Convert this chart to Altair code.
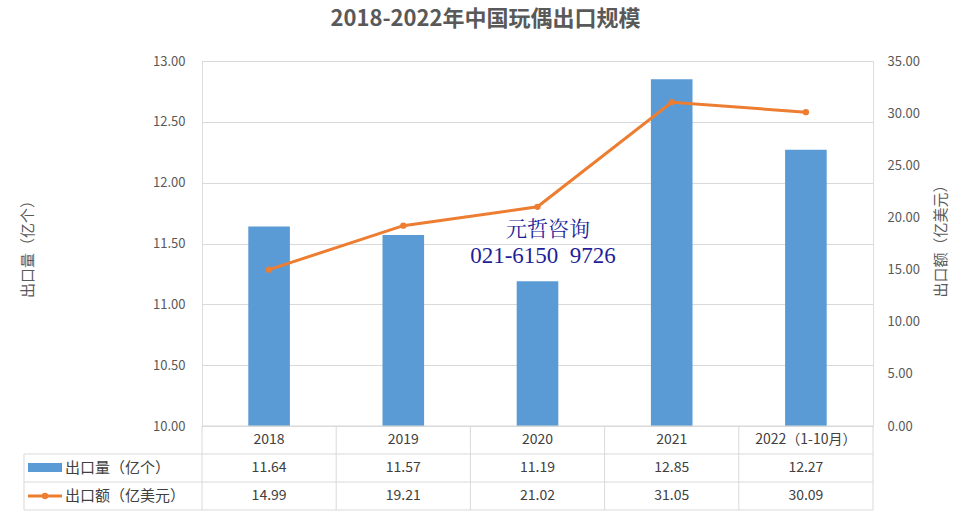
import altair as alt
import pandas as pd

years = ["2018", "2019", "2020", "2021", "2022（1-10月）"]
qty = [11.64, 11.57, 11.19, 12.85, 12.27]          # 出口量（亿个）
amount = [14.99, 19.21, 21.02, 31.05, 30.09]      # 出口额（亿美元）
left_ticks = [10.0, 10.5, 11.0, 11.5, 12.0, 12.5, 13.0]
right_ticks = [0, 5, 10, 15, 20, 25, 30, 35]

df = pd.DataFrame({"year": years, "qty": qty, "amount": amount})
one = pd.DataFrame({"k": [0]})

FONT = "Noto Sans CJK SC"
GRAY = "#595959"
LINE = "#D9D9D9"
BLUE = "#5B9BD5"
ORANGE = "#ED7D31"

W, H = 671, 365
ROW1, ROW2, ROW3, BOTTOM = 379, 407, 435, 449
HEAD_X = -178

xenc = alt.X("year:N", sort=years, axis=None,
             scale=alt.Scale(paddingInner=0, paddingOuter=0))

bars = alt.Chart(df).mark_bar(color=BLUE, width=alt.RelativeBandSize(0.31)).encode(
    x=xenc,
    y=alt.Y("qty:Q", scale=alt.Scale(domain=[10, 13], zero=False, clamp=True),
            axis=alt.Axis(values=left_ticks, format=".2f", grid=True, gridColor=LINE,
                          domain=False, ticks=False, labelPadding=17, labelColor=GRAY,
                          labelFontSize=13, labelFont=FONT,
                          title="出口量（亿个）", titleColor=GRAY, titleFont=FONT,
                          titleFontSize=15, titleFontWeight="normal",
                          titleX=-175, titleY=184, titleAngle=270,
                          titleBaseline="middle", titleAlign="center")),
    y2=alt.datum(10),
)

line = alt.Chart(df).mark_line(color=ORANGE, strokeWidth=3,
                               point=alt.OverlayMarkDef(color=ORANGE, size=40, filled=True, opacity=1)).encode(
    x=xenc,
    y=alt.Y("amount:Q", scale=alt.Scale(domain=[0, 35]),
            axis=alt.Axis(values=right_ticks, format=".2f", grid=False, orient="right",
                          domain=False, ticks=False, labelPadding=14, labelColor=GRAY,
                          labelFontSize=13, labelFont=FONT,
                          title="出口额（亿美元）", titleColor=GRAY, titleFont=FONT,
                          titleFontSize=15, titleFontWeight="normal",
                          titleX=67, titleY=176, titleAngle=270,
                          titleBaseline="middle", titleAlign="center")),
)

base = alt.Chart(df)
txt = dict(font=FONT, fontSize=14, color="#404040", align="center", baseline="middle")
year_text = base.mark_text(**txt).encode(x=xenc, y=alt.value(ROW1), text="year:N")
qty_text = base.mark_text(**txt).encode(x=xenc, y=alt.value(ROW2), text=alt.Text("qty:Q", format=".2f"))
amt_text = base.mark_text(**txt).encode(x=xenc, y=alt.value(ROW3), text=alt.Text("amount:Q", format=".2f"))

vlines = base.mark_rule(color=LINE, strokeWidth=1).encode(
    x=alt.X("year:N", sort=years, axis=None, bandPosition=0,
            scale=alt.Scale(paddingInner=0, paddingOuter=0)),
    y=alt.value(H), y2=alt.value(BOTTOM))

def rule(x, x2, y, y2):
    return alt.Chart(one).mark_rule(color=LINE, strokeWidth=1).encode(
        x=alt.value(x), x2=alt.value(x2), y=alt.value(y), y2=alt.value(y2))

grid_rules = [
    rule(0, W, H, H),
    rule(HEAD_X, W, 393, 393),
    rule(HEAD_X, W, 421, 421),
    rule(HEAD_X, W, BOTTOM, BOTTOM),
    rule(W, W, H, BOTTOM),
    rule(HEAD_X, HEAD_X, 393, BOTTOM),
]

head_txt = dict(font=FONT, fontSize=15, color="#404040", align="left", baseline="middle")
head1 = alt.Chart(one).mark_text(**head_txt).encode(
    x=alt.value(-137), y=alt.value(ROW2), text=alt.value("出口量（亿个）"))
head2 = alt.Chart(one).mark_text(**head_txt).encode(
    x=alt.value(-137), y=alt.value(ROW3), text=alt.value("出口额（亿美元）"))
sym1 = alt.Chart(one).mark_rect(color=BLUE).encode(
    x=alt.value(-174), x2=alt.value(-140), y=alt.value(ROW2 - 5), y2=alt.value(ROW2 + 4))
sym2 = alt.Chart(one).mark_rule(color=ORANGE, strokeWidth=3).encode(
    x=alt.value(-174), x2=alt.value(-140), y=alt.value(ROW3), y2=alt.value(ROW3))
sym2p = alt.Chart(one).mark_point(color=ORANGE, filled=True, size=40, opacity=1).encode(
    x=alt.value(-157), y=alt.value(ROW3))

wm1 = alt.Chart(one).mark_text(font="Noto Serif CJK SC, Liberation Serif, serif", fontSize=21,
                               color="#1F1F99", align="center", baseline="middle").encode(
    x=alt.value(346), y=alt.value(169), text=alt.value("元哲咨询"))
wm2 = alt.Chart(one).mark_text(font="Liberation Serif", fontSize=23,
                               color="#1F1F99", align="center", baseline="middle").encode(
    x=alt.value(341), y=alt.value(195), text=alt.value("021-6150\u00a0\u00a09726"))

main = alt.layer(bars, line).resolve_scale(y="independent")

chart = alt.layer(
    main, vlines, *grid_rules, year_text, qty_text, amt_text,
    head1, head2, sym1, sym2, sym2p, wm1, wm2,
).properties(
    width=W, height=H,
    autosize=alt.AutoSizeParams(type="none"),
    padding={"left": 202, "top": 61, "right": 97, "bottom": 89},
    title=alt.TitleParams("2018-2022年中国玩偶出口规模", font=FONT, fontSize=22,
                          fontWeight="bold", color=GRAY, anchor="middle", dx=-52, offset=24),
).configure_view(stroke=None).configure(background="white")

chart.save("out.html", embed_options={"renderer": "svg", "actions": False})
